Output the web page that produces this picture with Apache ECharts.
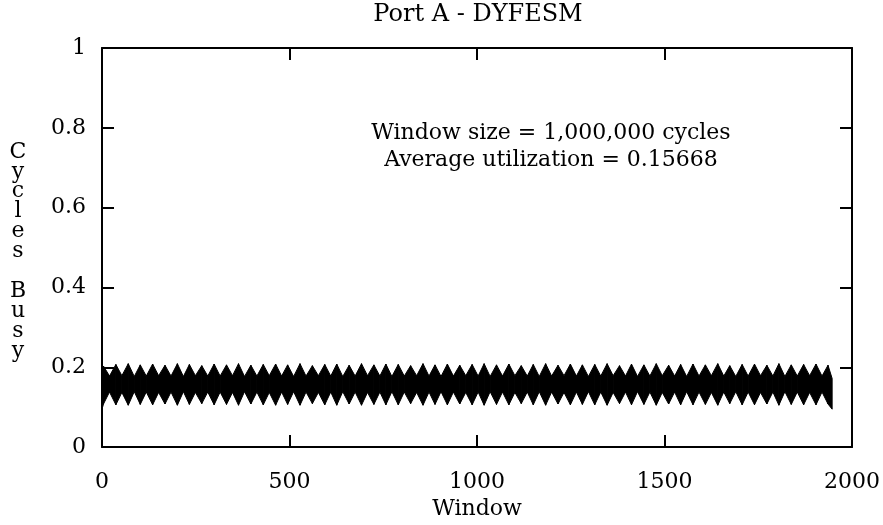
<!DOCTYPE html>
<html>
<head>
<meta charset="utf-8">
<script src="https://cdn.jsdelivr.net/npm/echarts@6/dist/echarts.min.js"></script>
<style>
html,body{margin:0;padding:0;background:#fff;}
#chart{width:883px;height:525px;}
</style>
</head>
<body>
<div id="chart"></div>
<script>
// Window positions (start, then alternating burst peak / waist, then end)
const windows = [0,
 4,20, 37,53, 70,86, 102,118, 135,151, 168,184, 201,217, 233,249, 266,282, 299,315,
 332,348, 364,380, 397,413, 430,446, 463,479, 495,511, 528,544, 561,577, 594,610, 626,642,
 659,675, 692,708, 725,741, 757,773, 790,806, 823,839, 856,872, 888,904, 921,937, 954,970,
 987,1003, 1019,1035, 1052,1068, 1085,1101, 1118,1134, 1150,1166, 1183,1199, 1216,1232, 1249,1265, 1281,1297,
 1314,1330, 1347,1363, 1380,1396, 1412,1428, 1445,1461, 1478,1494, 1511,1527, 1543,1559, 1576,1592, 1609,1625,
 1642,1658, 1674,1690, 1707,1723, 1740,1756, 1773,1789, 1805,1821, 1838,1854, 1871,1887, 1904,1920,
 1936, 1947];
// Upper envelope of cycles busy (fraction)
const upperEnv = [0.178,
 0.203,0.178, 0.207,0.179, 0.209,0.177, 0.206,0.178, 0.208,0.179, 0.205,0.178, 0.209,0.177, 0.207,0.179, 0.204,0.178, 0.208,0.178,
 0.206,0.179, 0.209,0.177, 0.205,0.178, 0.207,0.179, 0.208,0.178, 0.206,0.177, 0.209,0.178, 0.204,0.179, 0.207,0.178, 0.208,0.177,
 0.205,0.178, 0.209,0.179, 0.206,0.178, 0.208,0.177, 0.207,0.178, 0.204,0.179, 0.209,0.178, 0.206,0.177, 0.208,0.178, 0.205,0.179,
 0.207,0.178, 0.209,0.177, 0.206,0.178, 0.208,0.179, 0.204,0.178, 0.207,0.177, 0.209,0.178, 0.205,0.179, 0.208,0.178, 0.206,0.177,
 0.207,0.178, 0.209,0.179, 0.204,0.178, 0.208,0.177, 0.206,0.178, 0.209,0.179, 0.205,0.178, 0.207,0.177, 0.208,0.178, 0.206,0.179,
 0.209,0.178, 0.204,0.177, 0.207,0.178, 0.208,0.179, 0.205,0.178, 0.209,0.177, 0.206,0.178, 0.207,0.179, 0.208,0.178,
 0.205, 0.172];
// Lower envelope of cycles busy (fraction)
const lowerEnv = [0.095,
 0.108,0.138, 0.106,0.137, 0.105,0.139, 0.107,0.138, 0.106,0.137, 0.108,0.138, 0.105,0.139, 0.107,0.137, 0.109,0.138, 0.106,0.138,
 0.107,0.137, 0.105,0.139, 0.108,0.138, 0.106,0.137, 0.105,0.138, 0.107,0.139, 0.105,0.138, 0.109,0.137, 0.106,0.138, 0.105,0.139,
 0.108,0.138, 0.105,0.137, 0.107,0.138, 0.106,0.139, 0.106,0.138, 0.109,0.137, 0.105,0.138, 0.107,0.139, 0.106,0.138, 0.108,0.137,
 0.106,0.138, 0.105,0.139, 0.107,0.138, 0.106,0.137, 0.109,0.138, 0.106,0.139, 0.105,0.138, 0.108,0.137, 0.106,0.138, 0.107,0.139,
 0.106,0.138, 0.105,0.137, 0.109,0.138, 0.106,0.139, 0.107,0.138, 0.105,0.137, 0.108,0.138, 0.106,0.139, 0.106,0.138, 0.107,0.137,
 0.105,0.138, 0.109,0.139, 0.106,0.138, 0.106,0.137, 0.108,0.138, 0.105,0.139, 0.107,0.138, 0.106,0.137, 0.106,0.138,
 0.108, 0.095];

const titleText = 'Port A - DYFESM';
const xName = 'Window';
const yNameLetters = ['C','y','c','l','e','s',' ','B','u','s','y'];
const noteLines = ['Window size = 1,000,000 cycles', 'Average utilization = 0.15668'];
const xTicks = {min: 0, max: 2000, interval: 500};
const yTicks = {min: 0, max: 1, interval: 0.2};

const FONT = '"DejaVu Serif", "Liberation Serif", serif';
const FS = 22;

// segments between consecutive envelope points: [w0, lo0, hi0, w1, lo1, hi1]
const segData = [];
for (let i = 0; i < windows.length - 1; i++) {
  segData.push([windows[i], lowerEnv[i], upperEnv[i], windows[i + 1], lowerEnv[i + 1], upperEnv[i + 1]]);
}

const axisLine = {show: true, onZero: false, lineStyle: {color: '#000', width: 2}};
const axisTick = {show: true, inside: true, length: 12, lineStyle: {color: '#000', width: 2}};
const labelStyle = {color: '#000', fontFamily: FONT, fontSize: FS};

const chart = echarts.init(document.getElementById('chart'), null, {renderer: 'canvas'});
chart.setOption({
  backgroundColor: '#fff',
  animation: false,
  grid: {left: 102, right: 30, top: 48, bottom: 75, containLabel: false},
  xAxis: [
    {type: 'value', min: xTicks.min, max: xTicks.max, interval: xTicks.interval, position: 'bottom',
     axisLine, axisTick, splitLine: {show: false},
     axisLabel: Object.assign({margin: 24, formatter: v => String(v)}, labelStyle),
     name: xName, nameLocation: 'middle', nameGap: 50,
     nameTextStyle: labelStyle},
    {type: 'value', min: xTicks.min, max: xTicks.max, interval: xTicks.interval, position: 'top',
     axisLine, axisTick, splitLine: {show: false}, axisLabel: {show: false}}
  ],
  yAxis: [
    {type: 'value', min: yTicks.min, max: yTicks.max, interval: yTicks.interval, position: 'left',
     axisLine, axisTick, splitLine: {show: false},
     axisLabel: Object.assign({margin: 16, formatter: v => String(v)}, labelStyle)},
    {type: 'value', min: yTicks.min, max: yTicks.max, interval: yTicks.interval, position: 'right',
     axisLine, axisTick, splitLine: {show: false}, axisLabel: {show: false}}
  ],
  graphic: [
    {type: 'text', x: 478, y: 15,
     style: {text: titleText, fill: '#000', font: '24px ' + FONT, align: 'center', verticalAlign: 'middle'}},
    {type: 'text', x: 18, y: 142,
     style: {text: yNameLetters.join('\n'), fill: '#000', font: FS + 'px ' + FONT, lineHeight: 19.9, align: 'center'}},
    {type: 'text', x: 551, y: 133,
     style: {text: noteLines[0], fill: '#000', font: FS + 'px ' + FONT, align: 'center', verticalAlign: 'middle'}},
    {type: 'text', x: 551, y: 160,
     style: {text: noteLines[1], fill: '#000', font: FS + 'px ' + FONT, align: 'center', verticalAlign: 'middle'}}
  ],
  series: [
    {type: 'custom', name: 'Cycles Busy', data: segData, silent: true,
     encode: {x: [0, 3], y: [1, 2, 4, 5]},
     renderItem: function (params, api) {
       const a = api.coord([api.value(0), api.value(1)]);
       const b = api.coord([api.value(3), api.value(4)]);
       const c = api.coord([api.value(3), api.value(5)]);
       const d = api.coord([api.value(0), api.value(2)]);
       return {
         type: 'polygon',
         shape: {points: [a, b, c, d]},
         style: {fill: '#000', stroke: '#000', lineWidth: 1}
       };
     }}
  ]
});
</script>
</body>
</html>
